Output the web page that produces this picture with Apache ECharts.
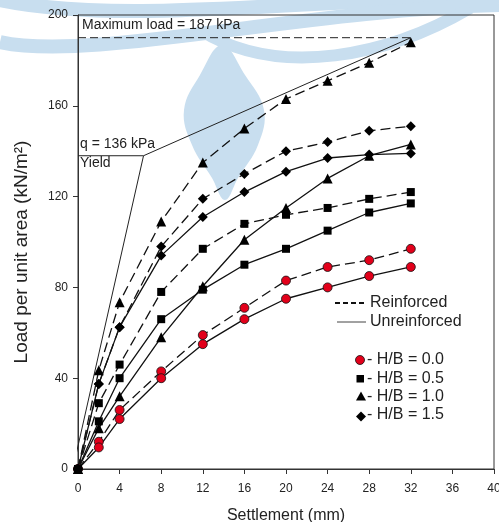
<!DOCTYPE html>
<html>
<head>
<meta charset="utf-8">
<script src="https://cdn.jsdelivr.net/npm/echarts@6/dist/echarts.min.js"></script>
<style>html,body{margin:0;padding:0;background:#fff}#c{width:499px;height:522px}</style>
</head>
<body>
<div id="c"></div>
<script>
// Settlement (mm)
const settlement = [0, 2, 4, 8, 12, 16, 20, 24, 28, 32];
// Load per unit area (kN/m2)
const reinforced00 = [0, 12, 26, 43, 59, 71, 83, 89, 92, 97];
const unreinforced00 = [0, 9.5, 22, 40, 55, 66, 75, 80, 85, 89];
const reinforced05 = [0, 29, 46, 78, 97, 108, 112, 115, 119, 122];
const unreinforced05 = [0, 21, 40, 66, 79, 90, 97, 105, 113, 117];
const reinforced10 = [0, 43.5, 73.5, 109, 135, 150, 163, 171, 179, 188];
const unreinforced10 = [0, 18, 32, 58, 80.5, 101, 115, 128, 138, 143];
const reinforced15 = [0, 37.5, 62.5, 98, 119, 130, 140, 144, 149, 151];
const unreinforced15 = [0, 37.5, 62.5, 94, 111, 122, 131, 137, 138.5, 139];
// annotation lines
const yieldTangent = [[-0.5, 0], [6.3, 138]];
const yieldUpper = [[6.3, 138], [32, 190]];
const yieldLevel = [[0, 138], [6.3, 138]];
const maxLoadLine = [[0, 190], [32, 190]];
const xTicks = {min: 0, max: 40, interval: 4};
const yTicks = {min: 0, max: 200, interval: 40};

const chart = echarts.init(document.getElementById('c'), null, {renderer: 'canvas'});
const pair = ys => settlement.map((x, i) => [x, ys[i]]);
function mk(name, ys, symbol, size, dashed, red) {
  return {
    name, type: 'line', data: pair(ys), symbol, symbolSize: size, showAllSymbol: true,
    lineStyle: {color: '#111', width: 1.3, type: dashed ? [10, 5] : 'solid'},
    itemStyle: red ? {color: '#e2001a', borderColor: '#111', borderWidth: 0.8} : {color: '#000', borderWidth: 0},
    z: 3
  };
}
function ann(data, dashed) {
  return {type: 'line', data, symbol: 'none', clip: false,
    lineStyle: {color: '#222', width: 1, type: dashed ? [8, 4] : 'solid'}, z: 2};
}
const font = 'Liberation Sans, Arial, sans-serif';
const blue = '#c8deef';
const opt = {
  animation: false,
  backgroundColor: '#fff',
  grid: {left: 78, right: 5, top: 15, bottom: 53, outerBoundsMode: 'none', containLabel: false,
    show: true, borderColor: '#333', borderWidth: 1, backgroundColor: 'transparent'},
  xAxis: {type: 'value', min: xTicks.min, max: xTicks.max, interval: xTicks.interval,
    name: 'Settlement (mm)', nameLocation: 'middle', nameGap: 39,
    nameTextStyle: {fontSize: 16, color: '#222', fontFamily: font},
    axisLine: {lineStyle: {color: '#333'}}, axisTick: {show: true, length: 5, lineStyle: {color: '#333'}},
    axisLabel: {fontSize: 12, color: '#222', margin: 14, fontFamily: font}, splitLine: {show: false}},
  yAxis: {type: 'value', min: yTicks.min, max: yTicks.max, interval: yTicks.interval,
    axisLine: {show: true, lineStyle: {color: '#333'}}, axisTick: {show: true, length: 5, lineStyle: {color: '#333'}},
    axisLabel: {fontSize: 12, color: '#222', margin: 10, fontFamily: font}, splitLine: {show: false}},
  series: [
    ann(yieldTangent, false), ann(yieldUpper, false), ann(yieldLevel, false), ann(maxLoadLine, true),
    mk('R0.0', reinforced00, 'circle', 9, true, true),
    mk('U0.0', unreinforced00, 'circle', 9, false, true),
    mk('R0.5', reinforced05, 'rect', 8, true),
    mk('U0.5', unreinforced05, 'rect', 8, false),
    mk('R1.0', reinforced10, 'triangle', 10, true),
    mk('U1.0', unreinforced10, 'triangle', 10, false),
    mk('R1.5', reinforced15, 'diamond', 10, true),
    mk('U1.5', unreinforced15, 'diamond', 10, false)
  ],
  graphic: [
    // watermark
    {type: 'polygon', z: -10, silent: true, shape: {smooth: 0.4, points: [[222, 45], [245, 75], [264, 110], [258, 145], [238, 178], [225, 200], [212, 178], [192, 145], [184, 110], [200, 75]]}, style: {fill: blue}},
    {type: 'bezierCurve', z: -10, silent: true, shape: {x1: 0, y1: 0, cpx1: 120, cpy1: 25, cpx2: 300, cpy2: 0, x2: 499, y2: -4}, style: {stroke: blue, lineWidth: 14, fill: null}},
    {type: 'bezierCurve', z: -10, silent: true, shape: {x1: 0, y1: 42, cpx1: 90, cpy1: 62, cpx2: 300, cpy2: 10, x2: 499, y2: 5}, style: {stroke: blue, lineWidth: 14, fill: null}},
    {type: 'bezierCurve', z: -10, silent: true, shape: {x1: 200, y1: 30, cpx1: 280, cpy1: 80, cpx2: 390, cpy2: 55, x2: 470, y2: 8}, style: {stroke: blue, lineWidth: 12, fill: null}},
    // y axis title
    {type: 'text', x: 22, y: 252, rotation: Math.PI / 2, style: {text: 'Load per unit area (kN/m²)', fontSize: 19, fill: '#222', fontFamily: font, align: 'center', verticalAlign: 'middle'}},
    // annotations
    {type: 'text', left: 82, top: 18, style: {text: 'Maximum load = 187 kPa', fontSize: 14, fill: '#222', fontFamily: font}},
    {type: 'text', left: 80, top: 137, style: {text: 'q = 136 kPa', fontSize: 14, fill: '#222', fontFamily: font}},
    {type: 'text', left: 80, top: 156, style: {text: 'Yield', fontSize: 14, fill: '#222', fontFamily: font}},
    // line legend
    {type: 'line', shape: {x1: 335, y1: 303, x2: 366, y2: 303}, style: {stroke: '#111', lineWidth: 2, lineDash: [5, 3]}},
    {type: 'text', left: 370, top: 295, style: {text: 'Reinforced', fontSize: 16, fill: '#222', fontFamily: font}},
    {type: 'line', shape: {x1: 337, y1: 322, x2: 366, y2: 322}, style: {stroke: '#444', lineWidth: 1}},
    {type: 'text', left: 370, top: 314, style: {text: 'Unreinforced', fontSize: 16, fill: '#222', fontFamily: font}},
    // marker legend
    {type: 'circle', shape: {cx: 360, cy: 360, r: 4.5}, style: {fill: '#e2001a', stroke: '#111', lineWidth: 0.8}},
    {type: 'text', left: 367, top: 352, style: {text: '- H/B = 0.0', fontSize: 16, fill: '#222', fontFamily: font}},
    {type: 'rect', shape: {x: 356.5, y: 375, width: 7.5, height: 7.5}, style: {fill: '#000'}},
    {type: 'text', left: 367, top: 370.5, style: {text: '- H/B = 0.5', fontSize: 16, fill: '#222', fontFamily: font}},
    {type: 'polygon', shape: {points: [[361, 391.5], [366, 400.5], [356, 400.5]]}, style: {fill: '#000'}},
    {type: 'text', left: 367, top: 389, style: {text: '- H/B = 1.0', fontSize: 16, fill: '#222', fontFamily: font}},
    {type: 'polygon', shape: {points: [[361, 411.5], [366, 416.5], [361, 421.5], [356, 416.5]]}, style: {fill: '#000'}},
    {type: 'text', left: 367, top: 407, style: {text: '- H/B = 1.5', fontSize: 16, fill: '#222', fontFamily: font}}
  ]
};
chart.setOption(opt);
</script>
</body>
</html>
